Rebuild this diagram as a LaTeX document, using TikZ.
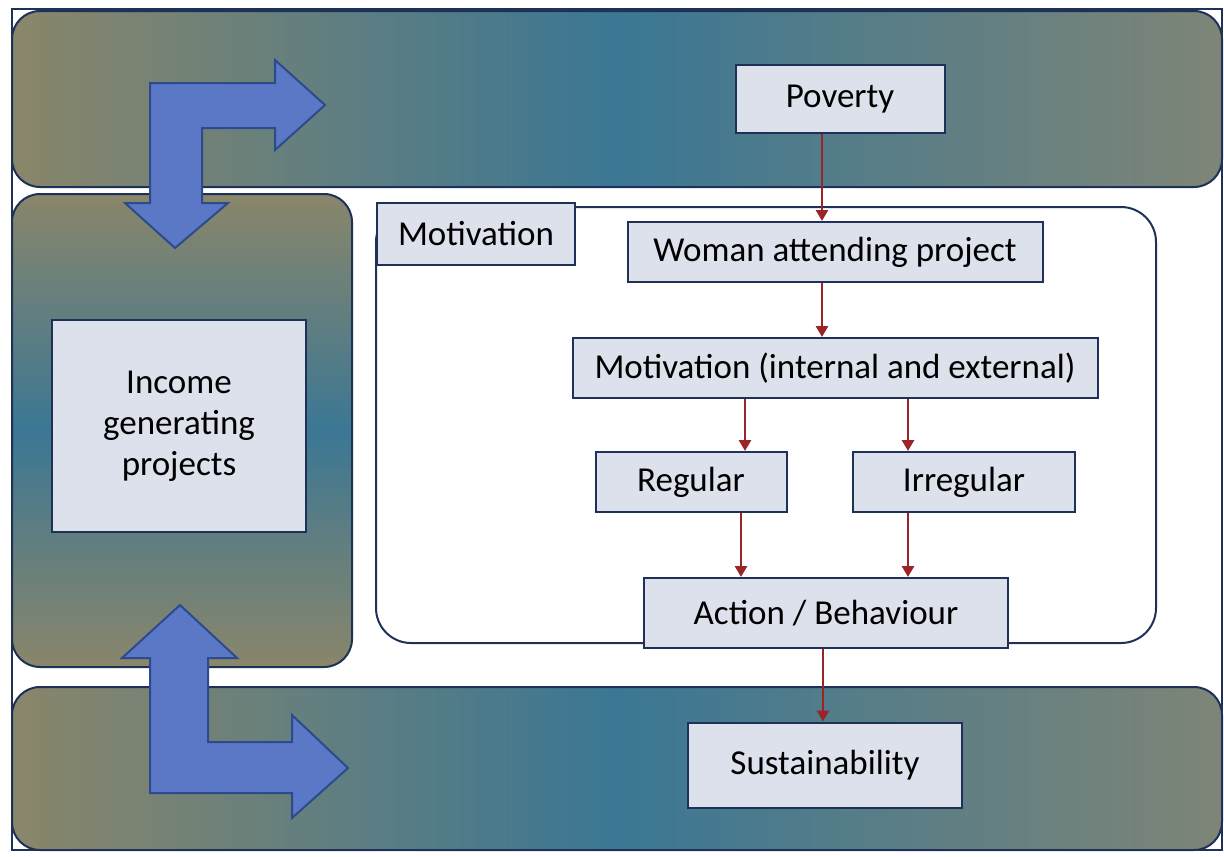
\documentclass[tikz,border=0pt]{standalone}
\usepackage{fontspec}
\setmainfont{Carlito}
\usetikzlibrary{arrows.meta,calc}
\definecolor{bandolive}{HTML}{8A866A}
\definecolor{bandteal}{HTML}{3B7794}
\definecolor{bandgray}{HTML}{7E8576}
\definecolor{boxfill}{HTML}{DDE1EC}
\definecolor{navy}{HTML}{1E3258}
\definecolor{arrblue}{HTML}{5B78C6}
\definecolor{arrdark}{HTML}{2C4A8C}
\definecolor{darkred}{HTML}{9A2428}
\begin{document}
\begin{tikzpicture}[x=1pt,y=-1pt,
  band/.style={draw=navy, line width=2pt, rounded corners=28pt},
  box/.style={draw=navy, line width=2pt, fill=boxfill, inner sep=0pt, align=center,
    font=\fontsize{35}{41}\selectfont},
  redarr/.style={draw=darkred, line width=2.8pt, -{Triangle[length=11pt,width=12pt]}},
  bigarrow/.style={fill=arrblue, draw=arrdark, line width=2pt, line join=miter}]
\useasboundingbox (0,0) rectangle (1224,857);
% outer frame
\draw[navy, line width=2pt] (12,9) rectangle (1222,850);
% bands
\draw[band, left color=bandolive, right color=bandgray, middle color=bandteal] (12,11) rectangle (1222,187);
\draw[band, left color=bandolive, right color=bandgray, middle color=bandteal] (12,687) rectangle (1222,850);
\draw[band, top color=bandolive, bottom color=bandolive, middle color=bandteal] (12,194) rectangle (352,667);
% big blue arrows
\draw[bigarrow] (150,83) -- (275,83) -- (275,60) -- (325,105) -- (275,150) -- (275,128)
  -- (202,128) -- (202,203) -- (228,203) -- (175,248) -- (125,203) -- (150,203) -- cycle;
\draw[bigarrow] (180,605) -- (237,658) -- (208,658) -- (208,742) -- (292,742) -- (292,715)
  -- (348,768) -- (292,818) -- (292,793) -- (150,793) -- (150,658) -- (122,658) -- cycle;
% container
\draw[navy, line width=2pt, rounded corners=35pt, fill=white] (376,207) rectangle (1156,643);
% boxes
\node[box, minimum width=254pt, minimum height=212pt] (igp) at (179,426) {Income\\generating\\projects};
\node[box, minimum width=198pt, minimum height=62pt] (motlab) at (476,234) {Motivation};
\node[box, minimum width=209pt, minimum height=68pt] (pov) at (840,99) {Poverty};
\node[box, minimum width=415pt, minimum height=60pt] (woman) at (835,252) {Woman attending project};
\node[box, minimum width=525pt, minimum height=60pt] (mot) at (835,368) {Motivation (internal and external)};
\node[box, minimum width=191pt, minimum height=60pt] (reg) at (691,482) {Regular};
\node[box, minimum width=222pt, minimum height=60pt] (irr) at (964,482) {Irregular};
\node[box, minimum width=364pt, minimum height=70pt] (act) at (826,613) {Action / Behaviour};
\node[box, minimum width=274pt, minimum height=85pt] (sust) at (825,765) {Sustainability};
% red arrows
\draw[redarr] ([xshift=-18pt]pov.south) -- ([xshift=-13pt]woman.north);
\draw[redarr] ([xshift=-13pt]woman.south) -- ([xshift=-13pt]mot.north);
\draw[redarr] ([xshift=-90pt]mot.south) -- ([xshift=54pt]reg.north);
\draw[redarr] ([xshift=73pt]mot.south) -- ([xshift=-56pt]irr.north);
\draw[redarr] ([xshift=50pt]reg.south) -- ([xshift=-85pt]act.north);
\draw[redarr] ([xshift=-56pt]irr.south) -- ([xshift=82pt]act.north);
\draw[redarr] ([xshift=-3pt]act.south) -- ([xshift=-2pt]sust.north);
\end{tikzpicture}
\end{document}
